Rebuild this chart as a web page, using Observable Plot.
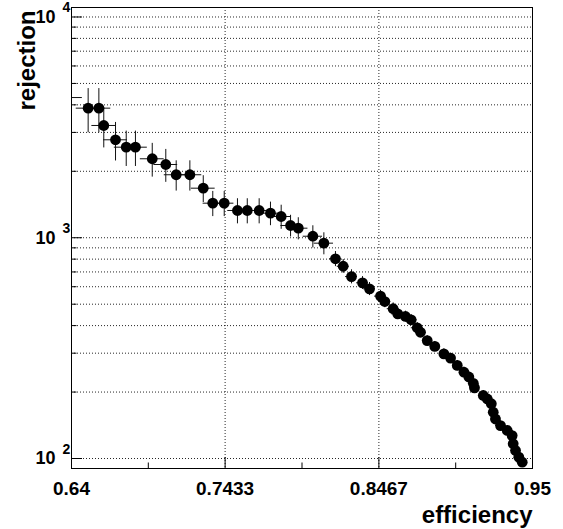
<!DOCTYPE html>
<html><head><meta charset="utf-8">
<script src="https://cdn.jsdelivr.net/npm/d3@7"></script>
<script src="https://cdn.jsdelivr.net/npm/@observablehq/plot@0.6"></script>
<style>body{margin:0;background:#fff}</style>
</head><body><div id="chart"></div>
<script>
const efficiency = [0.6393, 0.6512, 0.6584, 0.6617, 0.6696, 0.6768, 0.6830, 0.6943, 0.7034, 0.7104, 0.7196, 0.7286,
  0.7350, 0.7427, 0.7516, 0.7582, 0.7662, 0.7738, 0.7810, 0.7873, 0.7925, 0.8023, 0.8097,
  0.8175, 0.8227, 0.8283, 0.8357, 0.8404, 0.8478, 0.8507, 0.8563, 0.8594, 0.8646, 0.8684, 0.8725,
  0.8747, 0.8792, 0.8843, 0.8904, 0.8949, 0.8994, 0.9039, 0.9072, 0.9102, 0.9110, 0.9169, 0.9196,
  0.9223, 0.9236, 0.9251, 0.9285, 0.9330, 0.9363, 0.9370, 0.9386, 0.9408, 0.9431];
const efficiencyErr = [0.008, 0.008, 0.008, 0.008, 0.008, 0.008, 0.008, 0.008, 0.008, 0.008, 0.008, 0.008,
  0.0065, 0.0065, 0.0065, 0.0065, 0.0065, 0.0065, 0.0065, 0.0065, 0.0065, 0.0065, 0.0065,
  0.004, 0.004, 0.004, 0.004, 0.004, 0.004, 0.004, 0.004, 0.004, 0.004, 0.004, 0.004,
  0.003, 0.003, 0.003, 0.003, 0.003, 0.003, 0.003, 0.003, 0.003, 0.003, 0.003, 0.003,
  0.003, 0.003, 0.003, 0.003, 0.003, 0.003, 0.003, 0.003, 0.003, 0.003];
const rejection = [4316, 3864, 3864, 3225, 2778, 2572, 2572, 2279, 2147, 1929, 1929, 1677,
  1434, 1434, 1329, 1329, 1329, 1292, 1248, 1136, 1105, 1016, 945,
  803, 743, 667, 625, 587, 544, 514, 477, 452, 440, 425, 391,
  373, 342, 322, 298, 285, 264, 246, 234, 219, 209, 193, 186,
  177, 162, 151, 141, 134, 127, 116.6, 108.7, 101.4, 96.2];
const rejectionErr = [900, 875, 875, 673, 551, 469, 469, 397, 365, 302, 302, 233,
  187, 187, 173, 173, 173, 158, 156, 128, 127, 117, 108,
  63, 54, 49, 42, 40, 34, 32, 30, 26, 25, 24, 22,
  19, 18, 17, 16, 15, 14, 13, 12, 11, 11, 10, 10,
  9, 8, 8, 7, 7, 7, 6, 6, 5, 5];

const xTicks = [0.64, 0.7433, 0.8467, 0.95];
const xTickLabels = ["0.64", "0.7433", "0.8467", "0.95"];
const xMinorTicks = [0.69165, 0.795, 0.89835];
const xGrid = [0.7433, 0.8467];
const yDecades = [100, 1000, 10000];
const yDecadeExp = ["2", "3", "4"];
const yMinorTicks = [200, 300, 400, 500, 600, 700, 800, 900, 2000, 3000, 4000, 5000, 6000, 7000, 8000, 9000];
const yGrid = [100, 200, 300, 400, 500, 600, 700, 800, 900, 1000, 2000, 3000, 4000, 5000, 6000, 7000, 8000, 9000, 10000];
const xDomain = [0.64, 0.95];
const yDomain = [90.1, 11040];
const xTitle = "efficiency";
const yTitle = "rejection";

const data = efficiency.map((e, i) => ({x: e, y: rejection[i], ex: efficiencyErr[i], ey: rejectionErr[i]}));
const font = "Liberation Sans, Arial, Helvetica, sans-serif";

const chart = Plot.plot({
  width: 563,
  height: 529,
  marginLeft: 71,
  marginRight: 31,
  marginTop: 7,
  marginBottom: 61,
  style: {fontFamily: font, background: "#fff"},
  x: {domain: xDomain, axis: null},
  y: {type: "log", domain: yDomain, axis: null},
  marks: [
    Plot.gridY(yGrid, {stroke: "#000", strokeOpacity: 0.85, strokeDasharray: "1,2"}),
    Plot.gridX(xGrid, {stroke: "#000", strokeOpacity: 0.85, strokeDasharray: "1,2"}),
    Plot.axisY(yMinorTicks, {anchor: "left", tickSize: -5.5, fill: "none", label: null, stroke: "#000"}),
    Plot.axisY(yDecades, {anchor: "left", tickSize: -11, fill: "none", label: null, stroke: "#000"}),
    Plot.axisX(xMinorTicks, {anchor: "bottom", tickSize: -5.5, fill: "none", label: null, stroke: "#000"}),
    Plot.axisX(xTicks, {anchor: "bottom", tickSize: -11, fill: "none", label: null, stroke: "#000"}),
    Plot.ruleX(data, {x: "x", y1: d => d.y - d.ey, y2: d => d.y + d.ey, stroke: "#111", strokeWidth: 1, clip: true}),
    Plot.ruleY(data, {y: "y", x1: d => d.x - d.ex, x2: d => d.x + d.ex, stroke: "#111", strokeWidth: 1, clip: true}),
    Plot.dot(data.filter(d => d.x >= xDomain[0]), {x: "x", y: "y", r: 5.4, fill: "#000", stroke: "none"}),
    Plot.frame({stroke: "#000", strokeWidth: 1}),
    Plot.text(yDecades, {y: d => d, frameAnchor: "left", dx: -16, textAnchor: "end", lineAnchor: "middle", text: d => "10", fontSize: 18, fontWeight: "bold", fill: "#000"}),
    Plot.text(yDecades, {y: d => d, frameAnchor: "left", dx: -9, dy: -9, textAnchor: "start", lineAnchor: "middle", text: (d, i) => yDecadeExp[i], fontSize: 14, fontWeight: "bold", fill: "#000"}),
    Plot.text(xTicks, {x: d => d, frameAnchor: "bottom", dy: 20, lineAnchor: "middle", text: (d, i) => xTickLabels[i], fontSize: 19, fontWeight: "bold", fill: "#000"}),
    Plot.text([xTitle], {frameAnchor: "bottom-right", dy: 54, lineAnchor: "bottom", textAnchor: "end", fontSize: 24, fontWeight: "bold", fill: "#000"}),
    Plot.text([yTitle], {frameAnchor: "top-left", dx: -37, dy: 3, rotate: -90, lineAnchor: "bottom", textAnchor: "end", fontSize: 24, fontWeight: "bold", fill: "#000"})
  ]
});
document.getElementById("chart").appendChild(chart);
</script>
</body></html>
